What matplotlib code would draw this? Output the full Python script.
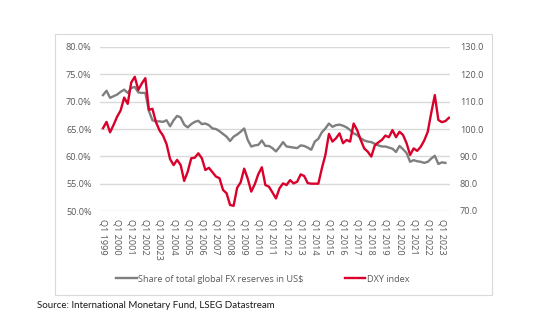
import matplotlib.pyplot as plt
import matplotlib.patches as patches
from matplotlib.ticker import FuncFormatter

# quarterly data, Q1 1999 onwards
usd_share = [71.2, 72.0, 70.7, 71.0, 71.3, 71.8, 72.2, 71.6, 72.5, 72.7,
             71.7, 71.6, 71.6, 68.3, 66.6, 66.4, 66.4, 66.3, 66.6, 65.5,
             66.6, 67.4, 67.1, 65.8, 65.3, 65.9, 66.3, 66.5, 65.9, 66.0,
             65.7, 65.1, 65.0, 64.6, 64.1, 63.6, 62.8, 63.6, 64.0, 64.5,
             65.1, 63.0, 61.8, 62.0, 62.1, 62.9, 61.9, 61.9, 61.5, 60.9,
             61.7, 62.6, 61.8, 61.7, 61.6, 61.5, 62.0, 61.9, 61.6, 61.2,
             62.7, 63.2, 64.4, 65.1, 66.0, 65.4, 65.7, 65.8, 65.6, 65.3,
             64.8, 64.2, 63.9, 63.3, 62.9, 62.7, 62.6, 62.3, 62.0, 61.8,
             61.8, 61.6, 61.4, 60.8, 61.9, 61.3, 60.6, 59.0, 59.3, 59.1,
             59.0, 58.8, 59.0, 59.6, 60.1, 58.6, 58.9, 58.8]

dxy = [100.3, 102.6, 98.8, 101.5, 104.5, 106.8, 111.5, 109.2, 117.0, 119.1,
       114.3, 116.7, 118.6, 107.0, 107.4, 102.5, 99.5, 97.6, 94.5, 89.0,
       86.8, 88.7, 86.8, 81.0, 84.4, 89.3, 89.5, 91.1, 89.3, 85.0,
       85.8, 84.2, 82.6, 82.0, 77.7, 76.5, 72.2, 71.9, 78.5, 80.5,
       85.5, 81.8, 77.1, 79.8, 83.5, 86.0, 79.5, 78.9, 76.8, 74.6,
       78.3, 80.1, 79.5, 81.3, 80.1, 80.7, 83.4, 82.8, 80.2, 80.0,
       80.0, 80.0, 85.6, 90.5, 98.2, 95.4, 96.6, 98.4, 94.8, 96.0,
       95.4, 102.0, 99.6, 96.0, 92.9, 91.7, 89.9, 94.0, 95.1, 96.0,
       97.6, 97.0, 99.6, 97.0, 99.0, 97.8, 94.8, 90.5, 92.9, 92.0,
       93.5, 95.8, 99.0, 106.0, 112.4, 103.3, 102.5, 102.9, 104.1]

tick_labels = ['Q1 1999', 'Q1 2000', 'Q1 2001', 'Q1 2002', 'Q1 20023',
               'Q1 2004', 'Q1 2005', 'Q1 2006', 'Q1 2007', 'Q1 2008',
               'Q1 2009', 'Q1 2010', 'Q1 2011', 'Q1 2012', 'Q1 2013',
               'Q1 2014', 'Q1 2015', 'Q1 2016', 'Q1 2017', 'Q1 2018',
               'Q1 2019', 'Q1 2020', 'Q1 2021', 'Q1 2022', 'Q1 2023']

gray = '#7f7f7f'
red = '#d9002b'
txt = '#595959'
grid = '#d9d9d9'

plt.rcParams['font.family'] = ['Open Sans', 'DejaVu Sans']

fig = plt.figure(figsize=(5.5, 3.3), dpi=100)
ax = fig.add_axes([100/550, 1-211/330, 350/550, 164/330])
ax2 = ax.twinx()

ax.plot(range(len(usd_share)), usd_share, color=gray, lw=1.7,
        label='Share of total global FX reserves in US$')
ax2.plot(range(len(dxy)), dxy, color=red, lw=1.7, label='DXY index')

ax.set_xlim(-0.85, 98.3)
ax.set_ylim(50, 80)
ax2.set_ylim(70, 130)
ax.set_yticks(range(50, 81, 5))
ax2.set_yticks(range(70, 131, 10))
ax.yaxis.set_major_formatter(FuncFormatter(lambda v, p: f'{v:.1f}%'))
ax2.yaxis.set_major_formatter(FuncFormatter(lambda v, p: f'{v:.1f}'))
ax.set_xticks(range(0, 97, 4))
ax.set_xticklabels(tick_labels, rotation=-90)

ax.yaxis.grid(True, color=grid, lw=1)
ax.set_axisbelow(True)
for a in (ax, ax2):
    for s in a.spines.values():
        s.set_visible(False)
ax.tick_params(axis='both', length=0, colors=txt, labelsize=6.6)
ax.tick_params(axis='y', pad=6)
ax.tick_params(axis='x', pad=6)
ax2.tick_params(axis='y', length=0, colors=txt, labelsize=6.6, pad=7)

h1, l1 = ax.get_legend_handles_labels()
h2, l2 = ax2.get_legend_handles_labels()
leg = fig.legend(h1 + h2, l1 + l2, loc='center', bbox_to_anchor=(263/550, 1-279/330),
                 ncol=2, frameon=False, fontsize=6.6, handlelength=2.2,
                 handletextpad=0.2, columnspacing=4.5, labelcolor=txt)

fig.patches.append(patches.Rectangle((55/550, 1-295/330), 437/550, 261/330,
                                     transform=fig.transFigure, fill=False,
                                     edgecolor=grid, lw=0.8))

fig.text(37/550, 1-306/330, 'Source: International Monetary Fund, LSEG Datastream',
         fontsize=7.0, color='#1a1a1a', va='center', family=['Lato', 'DejaVu Sans'])

plt.savefig('out.png', dpi=100)
